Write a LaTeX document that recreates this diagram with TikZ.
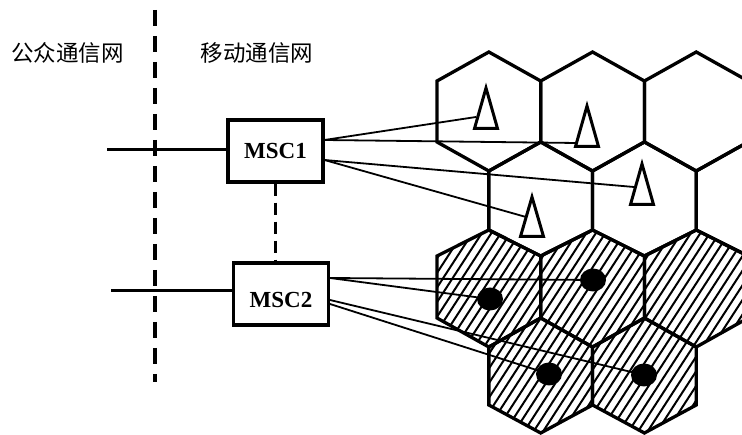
\documentclass[tikz,border=0pt]{standalone}
\usepackage{fontspec}
\setmainfont{Liberation Serif}
\newfontfamily\cjk{Noto Sans CJK SC}
\usetikzlibrary{shapes.geometric}
\newcommand\hexp[5]{(#1,#2) -- (#1+51.85,#3) -- (#1+51.85,#4) -- (#1,#5) -- (#1-51.85,#4) -- (#1-51.85,#3) -- cycle}
\tikzset{
 cell/.style={line width=3.3pt, line join=miter},
 hatchline/.style={line width=2pt},
 link/.style={line width=1.8pt},
 trunk/.style={line width=3pt},
 msc/.style={draw, line width=3.3pt, minimum width=95pt, minimum height=62pt, inner sep=0pt, fill=white,
   font=\fontsize{23}{24}\selectfont\bfseries},
 bts/.style={line width=3pt, fill=white, line join=miter},
 dot/.style={ellipse, fill=black, minimum width=26pt, minimum height=23pt, inner sep=0pt},
 border/.style={line width=4pt, dash pattern=on 16pt off 10pt},
 interlink/.style={line width=2.2pt, dash pattern=on 12pt off 7pt},
 netlabel/.style={font=\cjk\fontsize{22.5}{24}\selectfont, inner sep=0pt},
}
\begin{document}
\begin{tikzpicture}[x=1pt,y=-1pt]
\useasboundingbox (0,0) rectangle (742,435);

% labels
\node[netlabel] (pub) at (67.5,53) {公众通信网};
\node[netlabel] (mob) at (257,53) {移动通信网};

% boundary dashed line
\coordinate (b0) at (155,10);
\coordinate (b1) at (155,382);
\draw[border] (b0) -- (b1);

% cells
\begin{scope}
\clip (0,0) rectangle (742,435);
\begin{scope}
\clip \hexp{488.85}{230}{256}{318}{347} \hexp{592.55}{230}{256}{318}{347}
      \hexp{696.25}{230}{256}{318}{347} \hexp{540.7}{318}{347}{405}{433}
      \hexp{644.4}{318}{347}{405}{433};
\foreach \k in {0,...,50} \draw[hatchline] (300+\k*9.5,440) -- ++(142.9,-220);
\end{scope}
\foreach \cx/\t/\u/\l/\b in {488.85/52/81/142/171, 592.55/52/81/142/171, 696.25/52/81/142/171,
   540.7/142/171/230/256, 644.4/142/171/230/256, 748.1/142/171/230/256,
   488.85/230/256/318/347, 592.55/230/256/318/347, 696.25/230/256/318/347,
   540.7/318/347/405/433, 644.4/318/347/405/433}
  \draw[cell] \hexp{\cx}{\t}{\u}{\l}{\b};
\end{scope}

% switching centres
\node[msc] (m1) at (275.5,151) {MSC1};
\node[msc, text height=27pt, text depth=0pt] (m2) at (281,294) {MSC2};

\coordinate (p1) at (107,150);
\coordinate (p2) at (111,291);
\draw[trunk] (p1) -- (p1 -| m1.west);
\draw[trunk] (p2) -- (p2 -| m2.west);
\draw[interlink] (m1.south) -- (m1.south |- m2.north);

% attachment points
\coordinate (m1a) at (324.5,140);
\coordinate (m1b) at (324.5,160);
\coordinate (m2a) at (330,278);
\coordinate (m2b) at (330,300);
\coordinate (m2c) at (330,304);
\coordinate (t1a) at (476,117);
\coordinate (t2a) at (577,143);
\coordinate (t3a) at (634,187);
\coordinate (t4a) at (526,217);

% base station positions in hatched cells
\coordinate (d1) at (490,299);
\coordinate (d2) at (593,280);
\coordinate (d3) at (549,374);
\coordinate (d4) at (644,375);

\draw[link] (m1a) -- (t1a);
\draw[link] (m1a) -- (t2a);
\draw[link] (m1b) -- (t3a);
\draw[link] (m1b) -- (t4a);
\draw[link] (m2a) -- (d2);
\draw[link] (m2a) -- (d1);
\draw[link] (m2b) -- (d4);
\draw[link] (m2c) -- (d3);

% dots
\node[dot] (e1) at (d1) {};
\node[dot] (e2) at (d2) {};
\node[dot] (e3) at (d3) {};
\node[dot] (e4) at (d4) {};

% triangles
\draw[bts] (486,88) -- (497.5,128.5) -- (474.5,128.5) -- cycle;
\draw[bts] (587,106) -- (598.5,146.5) -- (575.5,146.5) -- cycle;
\draw[bts] (642,164) -- (653.5,204.5) -- (630.5,204.5) -- cycle;
\draw[bts] (532,197) -- (543.5,236.5) -- (520.5,236.5) -- cycle;
\end{tikzpicture}
\end{document}
